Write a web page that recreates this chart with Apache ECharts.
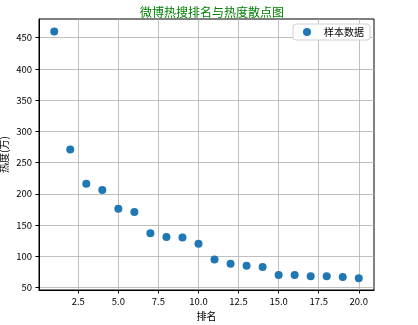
<!DOCTYPE html>
<html><head><meta charset="utf-8">
<script src="https://cdn.jsdelivr.net/npm/echarts@6/dist/echarts.min.js"></script>
<style>html,body{margin:0;padding:0;background:#fff}#c{width:418px;height:325px}</style>
</head><body><div id="c"></div>
<script>
const ranks = [1,2,3,4,5,6,7,8,9,10,11,12,13,14,15,16,17,18,19,20];
const heat = [460,271,216,206,176,171,137,131,130,120,95,88,85,83,70,70,68,68,67,65];
const xTicks = [2.5,5,7.5,10,12.5,15,17.5,20];
const yTicks = [50,100,150,200,250,300,350,400,450];
const font = '"Noto Sans CJK SC", sans-serif';
const chart = echarts.init(document.getElementById('c'));
const axisCommon = {
  axisLine:{onZero:false,lineStyle:{color:'#000',width:1}},
  splitLine:{show:true,lineStyle:{color:'#b0b0b0',width:0.8}},
  nameMoveOverlap:false,
  nameTextStyle:{color:'#000',fontSize:10,fontFamily:font}
};
chart.setOption({
  animation:false,
  title:{text:'微博热搜排名与热度散点图',left:207,textAlign:'center',top:1,
    textStyle:{color:'#008000',fontSize:12,fontWeight:'normal',fontFamily:font}},
  legend:{data:['样本数据'],right:48,top:24,orient:'vertical',
    backgroundColor:'#fff',borderColor:'#d0d0d0',borderWidth:1,borderRadius:3,
    padding:[3,6,3,10],itemWidth:10,itemHeight:8,itemGap:4,
    textStyle:{fontSize:10,fontFamily:font,color:'#000',padding:[0,0,0,7]}},
  grid:{left:39,right:44,top:19,bottom:35,show:true,borderColor:'#000',borderWidth:1,
    containLabel:false,outerBoundsMode:'none'},
  xAxis:Object.assign({},axisCommon,{type:'value',min:0.05,max:20.95,
    name:'排名',nameLocation:'middle',nameGap:21,
    axisTick:{show:true,length:3.5,lineStyle:{color:'#000'},customValues:xTicks},
    axisLabel:{customValues:xTicks,formatter:v=>v.toFixed(1),color:'#000',fontSize:9.5,fontFamily:font,margin:7}}),
  yAxis:Object.assign({},axisCommon,{type:'value',min:46,max:480,
    name:'热度(万)',nameLocation:'middle',nameGap:30,
    axisTick:{show:true,length:3.5,lineStyle:{color:'#000'},customValues:yTicks},
    axisLabel:{customValues:yTicks,color:'#000',fontSize:9.5,fontFamily:font,margin:7}}),
  series:[{name:'样本数据',type:'scatter',symbolSize:8,
    itemStyle:{color:'#1f77b4',opacity:1},
    data:ranks.map((r,i)=>[r,heat[i]])}]
});
</script></body></html>
